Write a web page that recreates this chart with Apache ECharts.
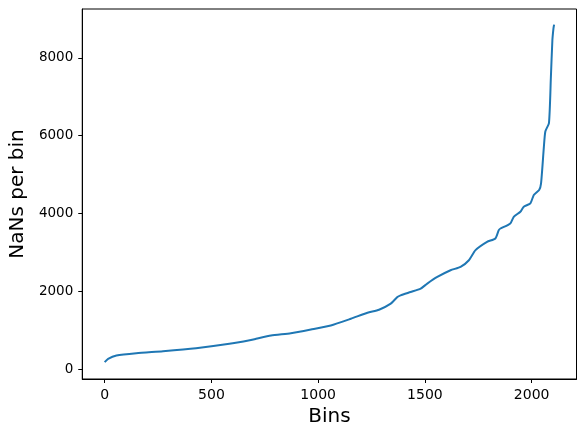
<!DOCTYPE html>
<html>
<head>
<meta charset="utf-8">
<script src="https://cdn.jsdelivr.net/npm/echarts@6/dist/echarts.min.js"></script>
<style>
  html, body { margin: 0; padding: 0; background: #fff; }
  #chart { width: 586px; height: 438px; }
</style>
</head>
<body>
<div id="chart"></div>
<script>
// bin index (x) and NaN count per bin (y)
var bins = [0, 16, 55, 148, 273, 428, 584, 685, 709, 779, 872, 966, 1059, 1153, 1231, 1285,
  1340, 1371, 1386, 1433, 1480, 1511, 1558, 1620, 1667, 1706, 1737, 1791, 1830, 1846, 1854,
  1900, 1916, 1947, 1963, 1994, 2010, 2035, 2044, 2057, 2064, 2081, 2090, 2097, 2102, 2105]
var nans = [190, 275, 360, 420, 471, 549, 661, 760, 790, 875, 935, 1030, 1133, 1305, 1460, 1537,
  1691, 1862, 1905, 1990, 2077, 2206, 2376, 2549, 2634, 2806, 3064, 3278, 3365, 3579, 3620,
  3750, 3920, 4050, 4180, 4265, 4480, 4610, 4780, 5700, 6110, 6325, 7500, 8450, 8750, 8850]
var xTicks = [0, 500, 1000, 1500, 2000]
var yTicks = [0, 2000, 4000, 6000, 8000]

var points = []
for (var i = 0; i < bins.length; i++) {
  points.push([bins[i], nans[i]])
}

var font = 'DejaVu Sans'
function plain(v) {
  return String(v)
}
var option = {
  backgroundColor: '#fff',
  animation: false,
  grid: {
    left: 80,
    right: 9.5,
    top: 9,
    bottom: 59,
    show: true,
    borderColor: '#000',
    borderWidth: 1,
  },
  xAxis: {
    type: 'value',
    min: -105,
    max: 2210,
    name: 'Bins',
    nameLocation: 'middle',
    nameGap: 28,
    nameTextStyle: { fontFamily: font, fontSize: 20, color: '#000' },
    axisLine: { show: true, onZero: false, lineStyle: { color: '#000', width: 1 } },
    axisTick: {
      show: true,
      length: 4,
      inside: false,
      customValues: xTicks,
      lineStyle: { color: '#000' },
    },
    axisLabel: {
      customValues: xTicks,
      formatter: plain,
      margin: 9,
      fontFamily: font,
      fontSize: 14,
      color: '#000',
    },
    splitLine: { show: false },
  },
  yAxis: {
    type: 'value',
    min: -241,
    max: 9251,
    name: 'NaNs per bin',
    nameLocation: 'middle',
    nameGap: 53,
    nameTextStyle: { fontFamily: font, fontSize: 20, color: '#000' },
    axisLine: { show: true, onZero: false, lineStyle: { color: '#000', width: 1 } },
    axisTick: {
      show: true,
      length: 4,
      inside: false,
      customValues: yTicks,
      lineStyle: { color: '#000' },
    },
    axisLabel: {
      customValues: yTicks,
      formatter: plain,
      margin: 9,
      fontFamily: font,
      fontSize: 13.5,
      color: '#000',
    },
    splitLine: { show: false },
  },
  series: [
    {
      type: 'line',
      data: points,
      showSymbol: false,
      symbol: 'none',
      smooth: 0.2,
      lineStyle: { color: '#1f77b4', width: 2 },
    },
  ],
}

var myChart = echarts.init(document.getElementById('chart'))
myChart.setOption(option)
</script>
</body>
</html>
